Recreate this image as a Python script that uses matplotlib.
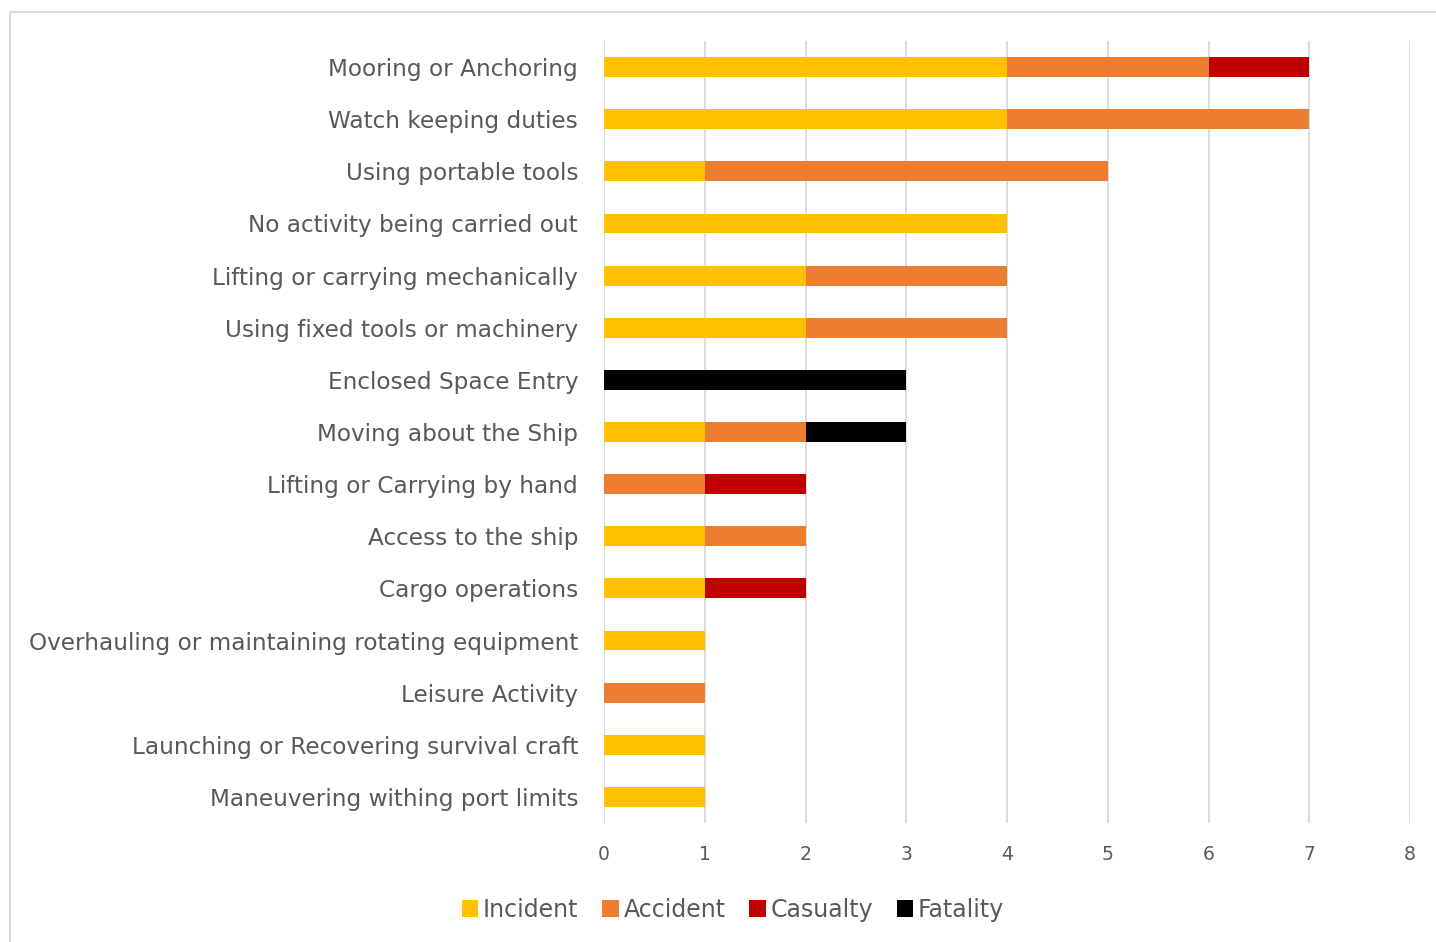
import numpy as np
import matplotlib.pyplot as plt
from matplotlib.patches import Rectangle

activities = [
    'Mooring or Anchoring',
    'Watch keeping duties',
    'Using portable tools',
    'No activity being carried out',
    'Lifting or carrying mechanically',
    'Using fixed tools or machinery',
    'Enclosed Space Entry',
    'Moving about the Ship',
    'Lifting or Carrying by hand',
    'Access to the ship',
    'Cargo operations',
    'Overhauling or maintaining rotating equipment',
    'Leisure Activity',
    'Launching or Recovering survival craft',
    'Maneuvering withing port limits',
]
incident = [4, 4, 1, 4, 2, 2, 0, 1, 0, 1, 1, 1, 0, 1, 1]
accident = [2, 3, 4, 0, 2, 2, 0, 1, 1, 1, 0, 0, 1, 0, 0]
casualty = [1, 0, 0, 0, 0, 0, 0, 0, 1, 0, 1, 0, 0, 0, 0]
fatality = [0, 0, 0, 0, 0, 0, 3, 1, 0, 0, 0, 0, 0, 0, 0]

series = [('Incident', incident, '#ffc000'),
          ('Accident', accident, '#ed7d31'),
          ('Casualty', casualty, '#c00000'),
          ('Fatality', fatality, '#000000')]

W, H = 1436, 942
fig = plt.figure(figsize=(W / 100, H / 100), dpi=100)
ax = fig.add_axes([604 / W, 1 - 823 / H, (1410 - 604) / W, (823 - 41) / H])

txt = '#595959'
y = np.arange(len(activities))
left = np.zeros(len(activities))
for name, vals, col in series:
    vals = np.array(vals, dtype=float)
    ax.barh(y, vals, left=left, height=0.38, color=col, label=name, zorder=3)
    left += vals

ax.set_ylim(len(activities) - 0.5, -0.5)
ax.set_xlim(0, 8)
ax.set_xticks(range(9))
ax.set_yticks(y)
ax.set_yticklabels(activities, fontsize=16.7, color=txt)
ax.tick_params(axis='x', labelsize=13.5, colors=txt, length=0, pad=16)
ax.tick_params(axis='y', length=0, pad=18.7)
ax.grid(axis='x', color='#d9d9d9', linewidth=1.3, zorder=0)
for s in ax.spines.values():
    s.set_visible(False)

leg = fig.legend(loc='center', bbox_to_anchor=(733 / W, 1 - 910 / H), ncol=4,
                 frameon=False, fontsize=17, handlelength=0.7, handleheight=0.7,
                 handletextpad=0.2, columnspacing=1.0)
for t in leg.get_texts():
    t.set_color(txt)

fig.patches.append(Rectangle((10 / W, -0.1), 1.2, 1 - 12 / H + 0.1,
                             transform=fig.transFigure, fill=False,
                             edgecolor='#d9d9d9', linewidth=1.5))

fig.savefig('out.png', dpi=100, facecolor='white')
